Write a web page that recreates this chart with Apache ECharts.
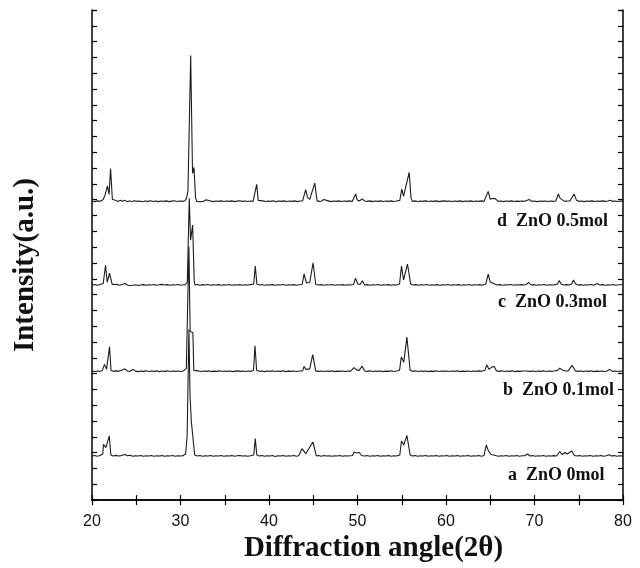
<!DOCTYPE html>
<html>
<head>
<meta charset="utf-8">
<script src="https://cdn.jsdelivr.net/npm/echarts@6/dist/echarts.min.js"></script>
<style>
html,body{margin:0;padding:0;background:#fff;}
#main{width:640px;height:568px;}
</style>
</head>
<body>
<div id="main"></div>
<script>
// 2theta / relative intensity pairs (one per sample)
var traceA = [[20.0,0],[20.3,0.5],[20.6,-0.2],[20.9,0.4],[21.1,0.5],[21.22,2],[21.3,11.7],[21.56,8.4],[21.95,20],[22.13,1],[22.4,0],[22.7,0.6],[23.0,0],[23.3,0.4],[23.7,1.5],[24.0,0.3],[24.3,0.8],[24.6,-0.2],[24.9,0.3],[25.2,0],[25.5,0.5],[25.8,-0.3],[26.1,0.2],[26.4,0],[26.7,0.5],[27.0,-0.2],[27.3,0.3],[27.6,0],[27.9,0.4],[28.2,-0.3],[28.5,0.3],[28.8,0],[29.1,0.5],[29.4,-0.2],[29.7,0.2],[30.0,0],[30.3,0.4],[30.58,2],[30.75,20],[30.95,127],[31.08,60],[31.22,35],[31.6,1],[31.9,0],[32.2,0.5],[32.5,-0.2],[32.8,0.3],[33.1,0],[33.4,0.5],[33.7,-0.3],[34.0,0.2],[34.3,0],[34.6,0.5],[34.9,-0.2],[35.2,0.3],[35.5,0],[35.8,0.4],[36.1,-0.3],[36.4,0.2],[36.7,0.5],[37.0,0],[37.3,0.3],[37.6,-0.2],[37.9,0.3],[38.1,0],[38.28,1],[38.45,17.4],[38.62,1],[38.9,0],[39.2,0.5],[39.5,-0.2],[39.8,0.3],[40.1,0],[40.4,0.5],[40.7,-0.5],[41.0,0.3],[41.3,0],[41.6,0.4],[41.9,-0.2],[42.2,0.3],[42.5,0],[42.8,0.5],[43.1,-0.2],[43.35,0.2],[43.55,0.5],[43.73,7.3],[44.15,2.3],[44.96,14],[45.35,0],[45.6,0.5],[45.9,-0.3],[46.2,0.4],[46.5,0],[46.8,0.3],[47.1,-0.2],[47.4,0.3],[47.7,0],[48.0,0.5],[48.3,-0.2],[48.6,0.3],[48.9,0],[49.2,0.3],[49.45,0.5],[49.6,4],[49.9,3],[50.2,3.5],[50.45,0.5],[50.8,0],[51.1,0.4],[51.4,-0.2],[51.7,0.3],[52.0,0],[52.3,0.5],[52.6,-0.3],[52.9,0.2],[53.2,0],[53.5,0.4],[53.8,-0.2],[54.1,0.3],[54.4,0],[54.6,0.4],[54.78,1],[54.97,15],[55.23,11],[55.58,20.6],[55.95,1],[56.2,0],[56.5,0.4],[56.8,-0.2],[57.1,0.3],[57.4,0],[57.7,0.5],[58.0,-0.3],[58.3,0.2],[58.6,0],[58.9,0.4],[59.2,-0.2],[59.5,0.3],[59.8,0],[60.1,0.5],[60.4,-0.2],[60.7,0.3],[61.0,0],[61.3,0.4],[61.6,-0.3],[61.9,0.2],[62.2,0],[62.5,0.5],[62.8,-0.2],[63.1,0.3],[63.4,0],[63.7,0.4],[64.0,-0.2],[64.3,0.5],[64.55,11],[64.8,5],[65.1,1.5],[65.3,0],[65.6,0.4],[65.9,-0.2],[66.2,0.3],[66.5,0],[66.8,0.5],[67.1,-0.3],[67.4,0.2],[67.7,0],[68.0,0.4],[68.3,-0.2],[68.6,0.3],[68.9,0.2],[69.2,2],[69.5,0],[69.8,0.4],[70.1,-0.2],[70.4,0.3],[70.7,0],[71.0,0.5],[71.3,-0.2],[71.6,0.3],[71.9,0],[72.2,0.4],[72.5,0],[72.7,0.5],[72.85,4.5],[73.1,1.5],[73.45,3.5],[73.7,2],[74.2,5],[74.5,0.5],[74.8,0],[75.1,0.4],[75.4,-0.3],[75.7,0.2],[76.0,0],[76.3,0.5],[76.6,-0.2],[76.9,0.3],[77.2,0],[77.5,0.4],[77.8,-0.2],[78.1,0.3],[78.4,1.2],[78.7,0],[79.0,0.4],[79.3,-0.2],[79.6,0.3],[80.0,0]];

var traceB = [[20.0,0.3],[20.3,-0.2],[20.6,0.4],[20.9,0],[21.15,0.5],[21.41,7],[21.64,2],[21.98,24.5],[22.15,1],[22.4,0],[22.7,0.5],[23.0,0.2],[23.3,0.8],[23.7,2.5],[24.0,0.3],[24.3,0],[24.66,2],[24.9,0.2],[25.2,-0.3],[25.5,0.4],[25.8,0],[26.1,0.5],[26.4,-0.2],[26.7,0.3],[27.0,0],[27.3,0.5],[27.6,-0.3],[27.9,0.3],[28.2,0],[28.5,0.5],[28.8,-0.2],[29.1,0.3],[29.4,0],[29.7,0.4],[30.0,-0.2],[30.3,0.3],[30.5,0.4],[30.66,3],[30.95,125],[31.09,40],[31.4,39],[31.5,1],[31.7,0],[32.0,0.5],[32.3,-0.2],[32.6,0.4],[32.9,0],[33.2,0.5],[33.5,-0.3],[33.8,0.2],[34.1,0],[34.4,0.5],[34.7,-0.2],[35.0,0.3],[35.3,0],[35.6,0.4],[35.9,-0.3],[36.2,0.2],[36.5,0.5],[36.8,0],[37.1,0.3],[37.4,-0.2],[37.7,0.3],[38.0,0],[38.25,1],[38.42,25.7],[38.6,1],[38.9,0],[39.2,0.4],[39.5,-0.3],[39.8,0.3],[40.1,0],[40.4,0.5],[40.7,-0.2],[41.0,0.3],[41.3,0],[41.6,0.5],[41.9,-0.3],[42.2,0.2],[42.5,0],[42.8,0.4],[43.1,-0.2],[43.4,0.3],[43.8,0.5],[43.96,5],[44.15,2],[44.6,2.5],[44.94,16.7],[45.28,0.5],[45.6,0],[45.9,0.4],[46.2,-0.2],[46.5,0.3],[46.8,0],[47.1,0.5],[47.4,-0.3],[47.7,0.2],[48.0,0],[48.3,0.4],[48.6,-0.2],[48.9,0.3],[49.2,0],[49.4,0.5],[49.6,3.7],[49.9,1.5],[50.2,1],[50.5,5.3],[50.8,0.3],[51.1,0],[51.4,0.5],[51.7,-0.2],[52.0,0.3],[52.3,0],[52.6,0.4],[52.9,-0.3],[53.2,0.2],[53.5,0],[53.8,0.5],[54.1,-0.2],[54.4,0.3],[54.75,1],[54.95,14.3],[55.23,9],[55.58,34.3],[55.95,1],[56.2,0],[56.5,0.5],[56.8,-0.2],[57.1,0.3],[57.4,0],[57.7,0.4],[58.0,-0.3],[58.3,0.2],[58.6,0],[58.9,0.5],[59.2,-0.2],[59.5,0.3],[59.8,0],[60.1,0.4],[60.4,-0.2],[60.7,0.3],[61.0,0],[61.3,0.5],[61.6,-0.3],[61.9,0.2],[62.2,0],[62.5,0.4],[62.8,-0.2],[63.1,0.3],[63.4,0],[63.7,0.5],[64.0,0],[64.4,1],[64.6,6.5],[64.85,2],[65.2,4.5],[65.45,4.8],[65.7,0.5],[66.0,0],[66.3,0.5],[66.6,-0.2],[66.9,0.3],[67.2,0],[67.5,0.5],[67.8,-0.3],[68.1,0.2],[68.4,0],[68.7,0.4],[69.0,0.3],[69.2,2],[69.5,0],[69.8,0.4],[70.1,-0.2],[70.4,0.3],[70.7,0],[71.0,0.5],[71.3,-0.2],[71.6,0.3],[71.9,0],[72.2,0.4],[72.6,1],[72.85,3.2],[73.2,1],[73.5,0.3],[73.8,0.5],[74.0,1],[74.25,6],[74.6,0.5],[74.9,0],[75.2,0.4],[75.5,-0.2],[75.8,0.3],[76.1,0],[76.4,0.5],[76.7,-0.3],[77.0,0.2],[77.3,0],[77.6,0.4],[77.9,-0.2],[78.2,0.3],[78.5,2],[78.8,0],[79.1,0.4],[79.4,-0.2],[79.7,0.3],[80.0,0]];

var traceC = [[20.0,0],[20.3,0.5],[20.6,-0.2],[20.9,0.4],[21.1,0.2],[21.27,1.5],[21.53,20],[21.72,2.7],[21.98,12],[22.28,0.5],[22.5,0],[22.8,0.6],[23.1,-0.2],[23.4,0.5],[23.75,1.5],[24.0,0],[24.3,-0.8],[24.6,-0.3],[24.9,0.3],[25.2,-0.5],[25.5,0],[25.8,0.4],[26.1,-0.3],[26.4,0.3],[26.7,0],[27.0,0.5],[27.3,-0.3],[27.6,0.2],[27.9,0.6],[28.2,0],[28.5,0.4],[28.8,-0.2],[29.1,0.3],[29.4,0],[29.7,0.5],[30.0,-0.2],[30.3,0.3],[30.55,0.2],[30.77,3],[30.99,87],[31.14,45],[31.37,60],[31.55,4],[31.63,0],[31.9,0.5],[32.2,-0.3],[32.5,0.4],[32.8,0],[33.1,0.5],[33.4,-0.2],[33.7,0.3],[34.0,0],[34.3,0.4],[34.6,-0.3],[34.9,0.2],[35.2,0],[35.5,0.5],[35.8,-0.2],[36.1,0.3],[36.4,0],[36.7,0.4],[37.0,-0.2],[37.3,0.3],[37.6,0],[37.9,0.4],[38.1,0],[38.27,1],[38.45,19],[38.63,1],[38.9,0],[39.2,0.5],[39.5,-0.2],[39.8,0.3],[40.1,0],[40.4,0.4],[40.7,-0.3],[41.0,0.2],[41.3,0],[41.6,0.5],[41.9,-0.2],[42.2,0.3],[42.5,0],[42.8,0.4],[43.1,-0.2],[43.4,0.3],[43.75,0.5],[43.96,11],[44.23,2],[44.6,2.5],[44.98,22.3],[45.28,0.5],[45.6,0],[45.9,0.4],[46.2,-0.2],[46.5,0.3],[46.8,0],[47.1,0.5],[47.4,-0.3],[47.7,0.2],[48.0,0],[48.3,0.4],[48.6,-0.2],[48.9,0.3],[49.2,0],[49.55,0.5],[49.77,6.7],[50.05,1],[50.3,0.5],[50.55,4.3],[50.8,0],[51.1,0.4],[51.4,-0.2],[51.7,0.3],[52.0,0],[52.3,0.5],[52.6,-0.3],[52.9,0.2],[53.2,0],[53.5,0.4],[53.8,-0.2],[54.1,0.3],[54.4,0],[54.75,1],[54.97,19],[55.2,5],[55.65,21],[56.0,1],[56.3,0],[56.6,0.4],[56.9,-0.2],[57.2,0.3],[57.5,0],[57.8,0.5],[58.1,-0.3],[58.4,0.2],[58.7,0],[59.0,0.4],[59.3,-0.2],[59.6,0.3],[59.9,0],[60.2,0.5],[60.5,-0.2],[60.8,0.3],[61.1,0],[61.4,0.4],[61.7,-0.3],[62.0,0.2],[62.3,0],[62.6,0.5],[62.9,-0.2],[63.2,0.3],[63.5,0],[63.8,0.4],[64.1,-0.2],[64.5,1],[64.77,11],[65.0,3],[65.2,4],[65.5,1],[65.8,0],[66.1,0.4],[66.4,-0.2],[66.7,0.3],[67.0,0],[67.3,0.5],[67.6,-0.3],[67.9,0.2],[68.2,0],[68.5,0.4],[68.8,0],[69.05,0.5],[69.35,2.5],[69.6,0],[69.9,0.4],[70.2,-0.2],[70.5,0.3],[70.8,0],[71.1,0.5],[71.4,-0.2],[71.7,0.3],[72.0,0],[72.3,0.4],[72.6,1],[72.8,4.5],[73.0,1],[73.3,0],[73.6,0.4],[73.9,0],[74.2,1],[74.4,5],[74.65,1],[74.9,0],[75.2,0.4],[75.5,-0.2],[75.8,0.3],[76.1,0],[76.4,0.5],[76.7,-0.2],[76.9,0.5],[77.1,1.5],[77.4,0],[77.7,0.4],[78.0,-0.2],[78.3,0.3],[78.6,0],[78.9,0.5],[79.2,-0.2],[79.5,0.3],[80.0,0.3]];

var traceD = [[20.0,0.4],[20.3,-0.3],[20.6,0.5],[20.9,0],[21.1,0.6],[21.25,1.5],[21.5,7],[21.75,15.5],[21.93,7],[22.1,33],[22.3,2],[22.45,0],[22.7,0.8],[22.95,-0.2],[23.2,1.2],[23.45,0.1],[23.7,1],[23.95,-0.3],[24.2,0.4],[24.5,-0.2],[24.8,0.6],[25.1,0],[25.4,0.3],[25.7,-0.4],[26.0,0.4],[26.3,0],[26.6,0.6],[26.9,-0.2],[27.2,0.3],[27.5,-0.3],[27.8,0.4],[28.1,0],[28.4,0.5],[28.7,-0.3],[29.0,0.2],[29.3,0.6],[29.6,-0.2],[29.9,0.3],[30.2,0],[30.5,0.6],[30.68,3],[30.84,10],[31.15,146],[31.36,28],[31.52,34],[31.7,4],[31.82,0],[32.0,1],[32.2,-0.4],[32.4,0.8],[32.6,0],[32.9,1.5],[33.1,-0.2],[33.4,0.4],[33.7,-0.3],[34.0,0.3],[34.3,0],[34.6,0.5],[34.9,-0.2],[35.2,0.3],[35.5,0],[35.8,0.5],[36.1,-0.3],[36.4,0.2],[36.7,0.6],[37.0,0],[37.3,0.4],[37.6,-0.2],[37.9,0.3],[38.2,0],[38.42,1.5],[38.61,17],[38.78,1],[39.0,0],[39.3,0.5],[39.6,-0.2],[39.9,0.4],[40.2,0],[40.5,0.6],[40.8,-0.3],[41.1,0.3],[41.4,0],[41.7,0.5],[42.0,-0.2],[42.3,0.3],[42.6,0],[42.9,0.5],[43.2,-0.3],[43.5,0.3],[43.8,0.5],[43.9,2],[44.14,11.7],[44.35,4],[44.6,2],[44.8,4],[45.17,18.3],[45.43,0.5],[45.7,0],[45.95,0.4],[46.2,1.8],[46.4,0],[46.7,0.5],[47.0,-0.3],[47.3,0.3],[47.6,0],[47.9,0.5],[48.2,-0.2],[48.5,0.4],[48.8,0],[49.1,0.5],[49.4,-0.2],[49.6,0.8],[49.8,7.3],[49.95,1.5],[50.2,0.3],[50.55,2.5],[50.8,0.3],[51.1,0],[51.4,0.5],[51.7,-0.3],[52.0,0.3],[52.3,0],[52.6,0.5],[52.9,-0.2],[53.2,0.4],[53.5,0],[53.8,0.5],[54.1,-0.2],[54.4,0.3],[54.78,1],[55.0,12.3],[55.2,5],[55.84,29],[56.05,3],[56.2,0],[56.5,0.5],[56.8,-0.2],[57.1,0.3],[57.4,0],[57.7,0.5],[58.0,-0.2],[58.3,0.3],[58.6,0],[58.9,0.5],[59.2,-0.3],[59.5,0.2],[59.8,0.5],[60.1,0],[60.4,0.4],[60.7,-0.2],[61.0,0.3],[61.3,0],[61.6,0.5],[61.9,-0.3],[62.2,0.3],[62.5,0],[62.8,0.5],[63.1,-0.2],[63.4,0.3],[63.7,0],[64.0,0.5],[64.3,0],[64.5,1.5],[64.77,10],[65.0,2],[65.3,3],[65.6,2.5],[65.9,0],[66.2,0.4],[66.5,-0.3],[66.8,0.3],[67.1,0],[67.4,0.5],[67.7,-0.2],[68.0,0.2],[68.3,0],[68.6,0.4],[68.9,0],[69.4,1.8],[69.7,0],[70.0,0.3],[70.3,-0.3],[70.6,0.3],[70.9,0],[71.2,0.4],[71.5,-0.2],[71.8,0.3],[72.1,0],[72.4,0.3],[72.55,1],[72.7,7.3],[72.9,3],[73.1,1],[73.4,0],[73.7,0.4],[74.0,0.3],[74.15,1.5],[74.47,7.3],[74.75,1],[75.0,0],[75.3,0.4],[75.6,-0.3],[75.9,0.3],[76.2,0],[76.5,0.5],[76.8,-0.2],[77.1,0.3],[77.4,0],[77.7,0.5],[78.0,0],[78.3,0.4],[78.55,1.2],[78.8,0],[79.1,0.4],[79.4,-0.2],[79.7,0.3],[80.0,0]];

// vertical offsets of the stacked patterns (same units as the y axis)
var baseLevels = [44.2, 129, 215.5, 299.3];
var sampleLabels = ['a  ZnO 0mol', 'b  ZnO 0.1mol', 'c  ZnO 0.3mol', 'd  ZnO 0.5mol'];
var xTicks = [20, 30, 40, 50, 60, 70, 80];

var chart = echarts.init(document.getElementById('main'));
var traces = [traceA, traceB, traceC, traceD];
var yMax = 491, yStep = 491 / 31;

var series = traces.map(function (t, i) {
	return {
		name: sampleLabels[i],
		type: 'line',
		data: t.map(function (p) { return [p[0], p[1] + baseLevels[i]]; }),
		symbol: 'none',
		lineStyle: { color: '#1c1c1c', width: 1.1 },
		z: 3
	};
});

// sample captions, placed at the right of each trace
var labelPos = [[508, 475], [503, 390], [498, 302], [497, 221.5]];
var graphics = sampleLabels.map(function (s, i) {
	return {
		type: 'text',
		x: labelPos[i][0],
		y: labelPos[i][1],
		style: {
			text: s,
			font: 'bold 18px "Liberation Serif", "Times New Roman", serif',
			fill: '#111',
			textVerticalAlign: 'middle'
		}
	};
});

var axisLine = { show: true, lineStyle: { color: '#000', width: 1.5 } };
var tick = { show: true, inside: true, length: 5, lineStyle: { color: '#000', width: 1.2 } };

var option = {
	animation: false,
	backgroundColor: '#fff',
	grid: { left: 92, right: 17, top: 10, bottom: 67, show: false },
	xAxis: [{
		type: 'value', min: 20, max: 80, interval: 5,
		position: 'bottom',
		axisLine: axisLine, axisTick: tick, splitLine: { show: false },
		axisLabel: {
			margin: 13,
			color: '#111',
			fontSize: 16,
			fontFamily: '"Liberation Sans", Arial, sans-serif',
			formatter: function (v) { return xTicks.indexOf(v) >= 0 ? String(v) : ''; }
		},
		name: 'Diffraction angle(2\u03b8)',
		nameLocation: 'middle',
		nameGap: 31,
		nameTextStyle: {
			fontSize: 29, fontWeight: 'bold', color: '#111',
			fontFamily: '"Liberation Serif", "Times New Roman", serif',
			padding: [0, 0, 0, 32]
		}
	}, {
		type: 'value', min: 20, max: 80, interval: 5,
		position: 'top',
		axisLine: axisLine, axisTick: tick, splitLine: { show: false },
		axisLabel: { show: false }
	}],
	yAxis: [{
		type: 'value', min: 0, max: yMax, interval: yStep,
		position: 'left',
		axisLine: axisLine, axisTick: tick, splitLine: { show: false },
		axisLabel: { show: false },
		name: 'Intensity(a.u.)',
		nameLocation: 'middle',
		nameGap: 52,
		nameTextStyle: {
			fontSize: 29, fontWeight: 'bold', color: '#111',
			fontFamily: '"Liberation Serif", "Times New Roman", serif',
			padding: [0, 20, 0, 0]
		}
	}, {
		type: 'value', min: 0, max: yMax, interval: yStep,
		position: 'right',
		axisLine: axisLine, axisTick: tick, splitLine: { show: false },
		axisLabel: { show: false }
	}],
	series: series,
	graphic: graphics
};
chart.setOption(option);
</script>
</body>
</html>
